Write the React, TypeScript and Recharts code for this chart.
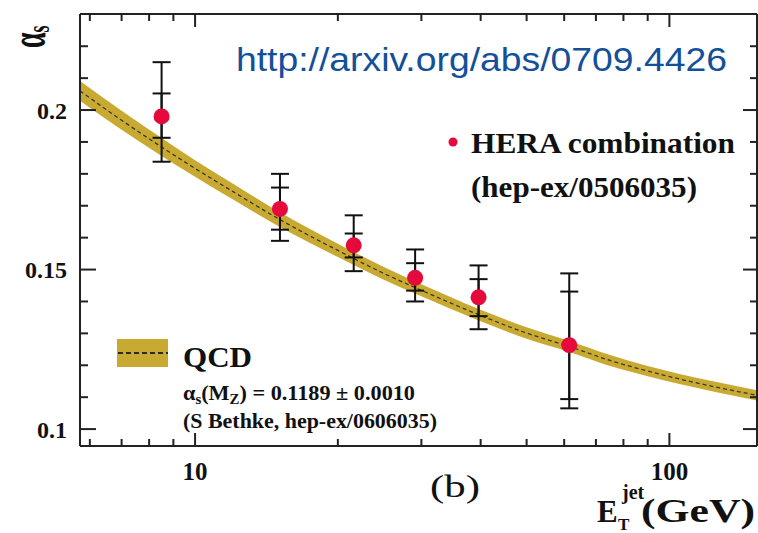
import React from 'react';
import { ComposedChart, Area, Line, Scatter, XAxis, YAxis, ErrorBar } from 'recharts';

// QCD running coupling band (E_T in GeV, central alpha_s and half-width of the band)
const qcdEt = [5.72, 7, 8.5, 10, 12, 15, 20, 25, 30, 40, 50, 61.5, 75, 90, 105, 125, 153];
const qcdAlpha = [0.206, 0.1968, 0.1884, 0.1817, 0.1745, 0.1659, 0.156, 0.1488, 0.1435, 0.1356, 0.1301, 0.1259, 0.1215, 0.1182, 0.1157, 0.1132, 0.1106];
const qcdHalfWidth = [0.0031, 0.003, 0.0028, 0.0026, 0.0025, 0.0023, 0.0021, 0.002, 0.0019, 0.0018, 0.0018, 0.0017, 0.0017, 0.0016, 0.0016, 0.0016, 0.0016];

// HERA combination measurements
const heraEt = [8.5, 15.1, 21.6, 29.1, 39.6, 61.5];
const heraAlpha = [0.198, 0.169, 0.1576, 0.1474, 0.1413, 0.1263];
const heraStatDown = [0.0067, 0.0065, 0.0038, 0.004, 0.0059, 0.0169];
const heraStatUp = [0.0072, 0.0067, 0.0037, 0.0046, 0.0057, 0.0168];
const heraTotDown = [0.0142, 0.01, 0.0081, 0.0074, 0.01, 0.0198];
const heraTotUp = [0.017, 0.011, 0.0094, 0.0089, 0.01, 0.0225];

// Axis ticks
const xTicks = [6, 7, 8, 9, 10, 20, 30, 40, 50, 60, 70, 80, 90, 100];
const xLabelled = [10, 100];
const yTicks = [0.1, 0.11, 0.12, 0.13, 0.14, 0.15, 0.16, 0.17, 0.18, 0.19, 0.2, 0.21, 0.22];
const yLabelled = [0.1, 0.15, 0.2];

const X_DOMAIN: [number, number] = [5.72, 153];
const Y_DOMAIN: [number, number] = [0.0947, 0.2301];

const bandData = qcdEt.map((et, i) => ({
  et,
  mid: qcdAlpha[i],
  range: [qcdAlpha[i] - qcdHalfWidth[i], qcdAlpha[i] + qcdHalfWidth[i]],
}));

const heraData = heraEt.map((et, i) => ({
  et,
  alpha: heraAlpha[i],
  stat: [heraStatDown[i], heraStatUp[i]],
  tot: [heraTotDown[i], heraTotUp[i]],
}));

const SERIF = "'Liberation Serif', 'Times New Roman', serif";
const SANS = "'Liberation Sans', Arial, sans-serif";
const INK = '#222';
const GOLD = '#c8aa32';
const RED = '#e60a3c';

const LeftTick = (props: any) => {
  const { x, y, payload } = props;
  const major = yLabelled.includes(payload.value);
  return (
    <g>
      <line x1={x} x2={x + (major ? 16 : 8)} y1={y} y2={y} stroke={INK} strokeWidth={2} />
      {major && (
        <text x={x - 13} y={y + 8.5} textAnchor="end" fontFamily={SERIF} fontWeight="bold" fontSize={24} fill="#111">
          {String(payload.value)}
        </text>
      )}
    </g>
  );
};

const RightTick = (props: any) => {
  const { x, y, payload } = props;
  const major = yLabelled.includes(payload.value);
  return <line x1={x} x2={x - (major ? 14 : 7)} y1={y} y2={y} stroke={INK} strokeWidth={2} />;
};

const BottomTick = (props: any) => {
  const { x, y, payload } = props;
  const major = xLabelled.includes(payload.value);
  return (
    <g>
      <line x1={x} x2={x} y1={y} y2={y - (major ? 13 : 7)} stroke={INK} strokeWidth={2} />
      {major && (
        <text x={x} y={y + 34} textAnchor="middle" fontFamily={SERIF} fontWeight="bold" fontSize={25} fill="#111">
          {String(payload.value)}
        </text>
      )}
    </g>
  );
};

const TopTick = (props: any) => {
  const { x, y, payload } = props;
  const major = xLabelled.includes(payload.value);
  return <line x1={x} x2={x} y1={y} y2={y + (major ? 13 : 7)} stroke={INK} strokeWidth={2} />;
};

const Dot = (p: any) => <circle cx={p.cx} cy={p.cy} r={8} fill={RED} />;

export default function App() {
  return (
    <div style={{ position: 'absolute', left: 0, top: 0, background: '#fff' }}>
      <ComposedChart width={758} height={533} margin={{ top: 0, right: 0, bottom: 0, left: 0 }}>
        <XAxis
          dataKey="et"
          type="number"
          scale="log"
          domain={X_DOMAIN}
          allowDataOverflow
          ticks={xTicks}
          interval={0}
          tickSize={0}
          tickMargin={0}
          tickLine={false}
          height={87}
          axisLine={{ stroke: INK, strokeWidth: 2 }}
          tick={<BottomTick />}
        />
        <XAxis
          xAxisId="top"
          orientation="top"
          dataKey="et"
          type="number"
          scale="log"
          domain={X_DOMAIN}
          allowDataOverflow
          ticks={xTicks}
          interval={0}
          tickSize={0}
          tickMargin={0}
          tickLine={false}
          height={14}
          axisLine={{ stroke: INK, strokeWidth: 2 }}
          tick={<TopTick />}
        />
        <YAxis
          type="number"
          domain={Y_DOMAIN}
          allowDataOverflow
          ticks={yTicks}
          interval={0}
          tickSize={0}
          tickMargin={0}
          tickLine={false}
          width={80}
          axisLine={{ stroke: INK, strokeWidth: 2 }}
          tick={<LeftTick />}
        />
        <YAxis
          yAxisId="right"
          orientation="right"
          type="number"
          domain={Y_DOMAIN}
          allowDataOverflow
          ticks={yTicks}
          interval={0}
          tickSize={0}
          tickMargin={0}
          tickLine={false}
          width={1}
          axisLine={{ stroke: INK, strokeWidth: 2 }}
          tick={<RightTick />}
        />

        <Area
          data={bandData}
          dataKey="range"
          type="monotone"
          fill={GOLD}
          fillOpacity={1}
          stroke="none"
          isAnimationActive={false}
        />
        <Line
          data={bandData}
          dataKey="mid"
          type="monotone"
          stroke="#3b3826"
          strokeWidth={1.3}
          strokeDasharray="4 3"
          dot={false}
          isAnimationActive={false}
        />
        <Line
          data={bandData}
          dataKey="mid"
          xAxisId="top"
          yAxisId="right"
          stroke="none"
          dot={false}
          isAnimationActive={false}
        />
        <Scatter data={heraData} dataKey="alpha" shape={<Dot />} isAnimationActive={false}>
          <ErrorBar dataKey="tot" direction="y" width={9} stroke="#111" strokeWidth={2} isAnimationActive={false} />
          <ErrorBar dataKey="stat" direction="y" width={9} stroke="#111" strokeWidth={2} isAnimationActive={false} />
        </Scatter>

        {/* y-axis title */}
        <g transform="translate(45,48) rotate(-90) scale(1,1.8)">
          <text x={0} y={0} fontFamily={SERIF} fontWeight="bold" fontSize={28} fill="#111">
            α<tspan fontSize={18} dy={2}>s</tspan>
          </text>
        </g>

        {/* reference link */}
        <text x={236} y={71} fontFamily={SANS} fontSize={34} fill="#14509a" textLength={491} lengthAdjust="spacingAndGlyphs">
          http://arxiv.org/abs/0709.4426
        </text>

        {/* data legend */}
        <circle cx={453} cy={142} r={4.5} fill={RED} />
        <text x={471} y={153} fontFamily={SERIF} fontWeight="bold" fontSize={30} fill="#111" textLength={264} lengthAdjust="spacingAndGlyphs">
          HERA combination
        </text>
        <text x={471} y={197} fontFamily={SERIF} fontWeight="bold" fontSize={30} fill="#111" textLength={226} lengthAdjust="spacingAndGlyphs">
          (hep-ex/0506035)
        </text>

        {/* QCD legend */}
        <rect x={117} y={339} width={51} height={28} fill={GOLD} />
        <line x1={118} x2={168} y1={353} y2={353} stroke="#2a2a1a" strokeWidth={2} strokeDasharray="5 3" />
        <text x={183} y={367} fontFamily={SERIF} fontWeight="bold" fontSize={30} fill="#111" textLength={69} lengthAdjust="spacingAndGlyphs">
          QCD
        </text>
        <text x={183} y={400} fontFamily={SERIF} fontWeight="bold" fontSize={21} fill="#111" textLength={232} lengthAdjust="spacingAndGlyphs">
          α<tspan fontSize={14} dy={4}>s</tspan>
          <tspan dy={-4}>(M</tspan>
          <tspan fontSize={14} dy={4}>Z</tspan>
          <tspan dy={-4}>) = 0.1189 ± 0.0010</tspan>
        </text>
        <text x={183} y={428} fontFamily={SERIF} fontWeight="bold" fontSize={21} fill="#111" textLength={254} lengthAdjust="spacingAndGlyphs">
          (S Bethke, hep-ex/0606035)
        </text>

        {/* panel tag */}
        <text x={430} y={497} fontFamily={SERIF} fontSize={32} fill="#111" textLength={50} lengthAdjust="spacingAndGlyphs">
          (b)
        </text>

        {/* x-axis title */}
        <text x={597} y={522} fontFamily={SERIF} fontWeight="bold" fontSize={31} fill="#111">E</text>
        <text x={618} y={530} fontFamily={SERIF} fontWeight="bold" fontSize={17} fill="#111">T</text>
        <text x={622} y={499} fontFamily={SERIF} fontWeight="bold" fontSize={20} fill="#111">jet</text>
        <text x={641} y={522} fontFamily={SERIF} fontWeight="bold" fontSize={33} fill="#111" textLength={114} lengthAdjust="spacingAndGlyphs">
          (GeV)
        </text>
      </ComposedChart>
    </div>
  );
}
